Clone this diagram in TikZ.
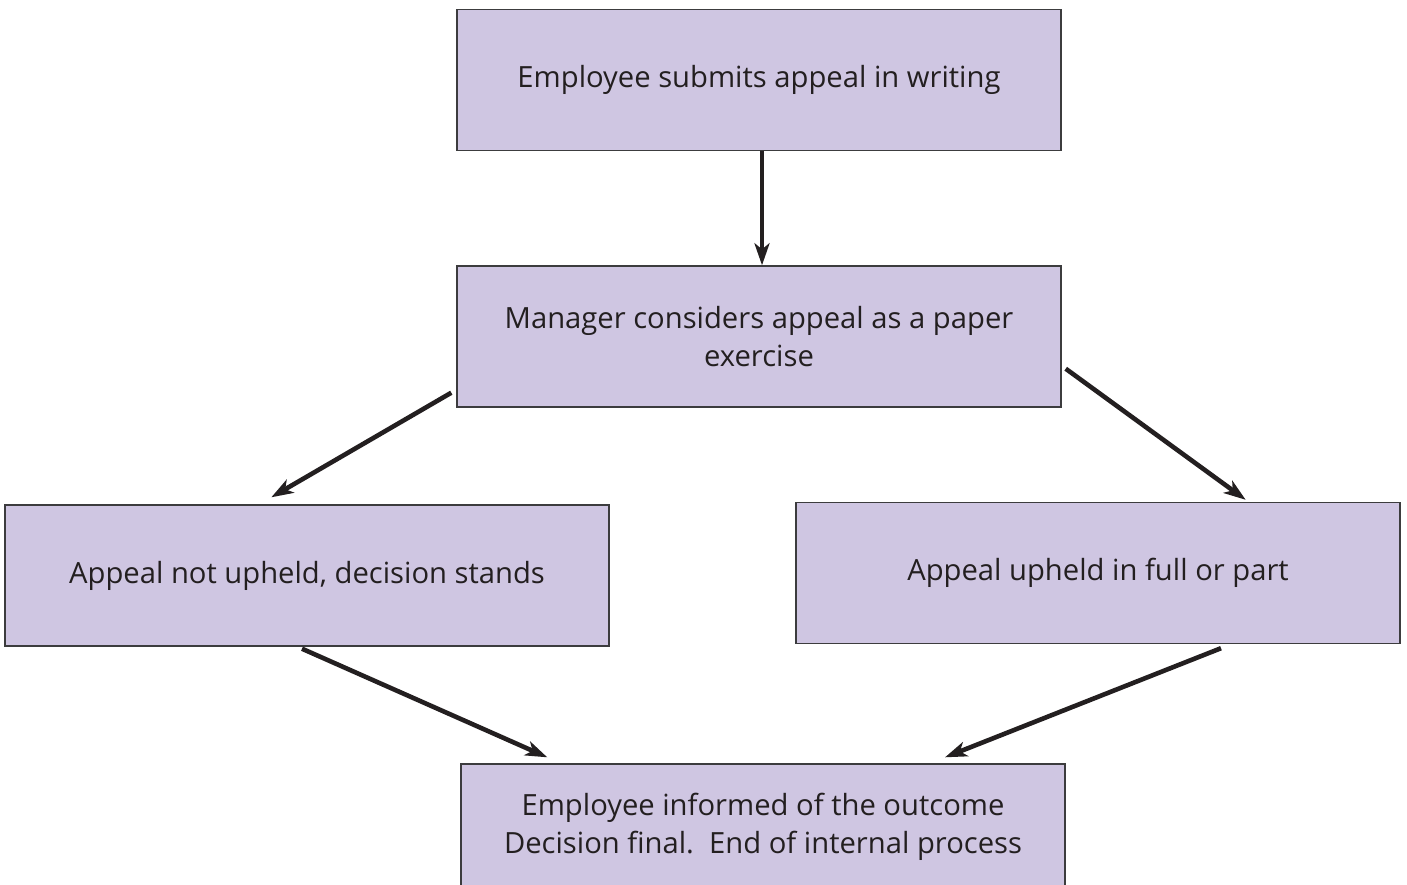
\documentclass[tikz,border=0pt]{standalone}
\usepackage{fontspec}
\setmainfont{Open Sans}
\usetikzlibrary{arrows.meta}
\definecolor{boxfill}{RGB}{207,198,226}
\definecolor{boxline}{RGB}{60,60,62}
\definecolor{txt}{RGB}{35,31,32}
\begin{document}
\begin{tikzpicture}[x=0.5pt,y=-0.5pt,
  stepbox/.style={draw=boxline,fill=boxfill,line width=0.7pt,minimum width=302pt,minimum height=70.5pt,
    inner sep=0pt,align=center,text=txt,font=\fontsize{14.6}{19}\selectfont},
  arr/.style={draw=txt,line width=2.3pt,-{Stealth[length=11pt,width=7.5pt,inset=3pt]}}]
\useasboundingbox (0,0) rectangle (1407,884);
\clip (0,0) rectangle (1407,884);
\node[stepbox] (top) at (759,80) {Employee submits appeal in writing};
\node[stepbox] (mid) at (759,336.5) {Manager considers appeal as a paper\\exercise};
\node[stepbox] (left) at (307,575.5) {Appeal not upheld, decision stands};
\node[stepbox] (right) at (1098,573) {Appeal upheld in full or part};
\node[stepbox,minimum height=62.5pt] (bot) at (763,826.5) {Employee informed of the outcome\\Decision final.\ \ End of internal process};
\draw[arr] ([xshift=1.5pt]top.south) -- ([xshift=1.5pt]mid.north);
\draw[arr] ([xshift=-2.5pt,yshift=7.5pt]mid.south west) -- ([xshift=133.5pt,yshift=3.5pt]left.north west);
\draw[arr] ([xshift=2pt,yshift=19.5pt]mid.south east) -- ([xshift=-77.5pt,yshift=1pt]right.north east);
\draw[arr] ([xshift=-2.5pt,yshift=-1pt]left.south) -- ([xshift=43.5pt,yshift=3pt]bot.north west);
\draw[arr] ([xshift=61.5pt,yshift=-2pt]right.south) -- ([xshift=91pt,yshift=3pt]bot.north);
\end{tikzpicture}
\end{document}
